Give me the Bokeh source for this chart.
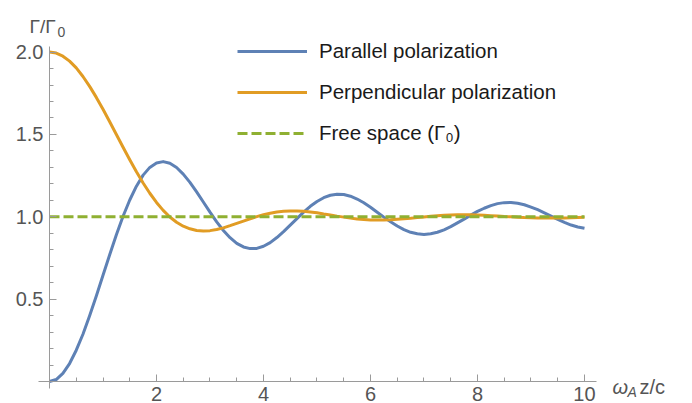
from bokeh.plotting import figure
from bokeh.models import (Range1d, FixedTicker, PrintfTickFormatter, Legend,
                          LegendItem, Label)
from bokeh.embed import file_html
from bokeh.resources import INLINE

# ---- data ----
x_vals = [0.0, 0.125, 0.25, 0.375, 0.5, 0.625, 0.75, 0.875, 1.0, 1.125, 1.25,
          1.375, 1.5, 1.625, 1.75, 1.875, 2.0, 2.125, 2.25, 2.375, 2.5, 2.625,
          2.75, 2.875, 3.0, 3.125, 3.25, 3.375, 3.5, 3.625, 3.75, 3.875, 4.0,
          4.125, 4.25, 4.375, 4.5, 4.625, 4.75, 4.875, 5.0, 5.125, 5.25, 5.375,
          5.5, 5.625, 5.75, 5.875, 6.0, 6.125, 6.25, 6.375, 6.5, 6.625, 6.75,
          6.875, 7.0, 7.125, 7.25, 7.375, 7.5, 7.625, 7.75, 7.875, 8.0, 8.125,
          8.25, 8.375, 8.5, 8.625, 8.75, 8.875, 9.0, 9.125, 9.25, 9.375, 9.5,
          9.625, 9.75, 9.875, 10.0]
parallel = [0.000, 0.012, 0.049, 0.109, 0.190, 0.287, 0.399, 0.519, 0.645,
            0.770, 0.891, 1.003, 1.102, 1.186, 1.253, 1.300, 1.327, 1.335,
            1.325, 1.299, 1.259, 1.209, 1.151, 1.090, 1.028, 0.969, 0.917,
            0.873, 0.839, 0.817, 0.807, 0.808, 0.821, 0.843, 0.874, 0.910,
            0.949, 0.989, 1.028, 1.064, 1.093, 1.116, 1.131, 1.137, 1.135,
            1.125, 1.108, 1.085, 1.058, 1.028, 0.998, 0.970, 0.944, 0.922,
            0.906, 0.897, 0.893, 0.897, 0.906, 0.921, 0.940, 0.963, 0.986,
            1.010, 1.033, 1.052, 1.068, 1.080, 1.086, 1.087, 1.082, 1.073,
            1.059, 1.043, 1.024, 1.004, 0.984, 0.966, 0.950, 0.938, 0.930]
perpendicular = [2.000, 1.994, 1.975, 1.945, 1.904, 1.852, 1.792, 1.725,
                 1.653, 1.577, 1.500, 1.422, 1.346, 1.273, 1.205, 1.143,
                 1.087, 1.039, 0.999, 0.967, 0.943, 0.927, 0.917, 0.914,
                 0.916, 0.923, 0.933, 0.946, 0.960, 0.974, 0.988, 1.001,
                 1.013, 1.022, 1.029, 1.033, 1.035, 1.035, 1.033, 1.029,
                 1.024, 1.017, 1.011, 1.004, 0.998, 0.992, 0.987, 0.984,
                 0.981, 0.981, 0.981, 0.982, 0.985, 0.988, 0.991, 0.995,
                 0.999, 1.003, 1.006, 1.009, 1.011, 1.012, 1.012, 1.012,
                 1.011, 1.009, 1.007, 1.005, 1.002, 1.000, 0.997, 0.995,
                 0.994, 0.992, 0.992, 0.992, 0.992, 0.993, 0.994, 0.996,
                 0.997]
free_x = [0.0, 10.0]
free_y = [1.0, 1.0]

x_major = [2, 4, 6, 8, 10]
x_minor = [0.5 * i for i in range(1, 21)]
y_major = [0.5, 1.0, 1.5, 2.0]
y_minor = [0.1 * i for i in range(1, 21)]

series_labels = ["Parallel polarization", "Perpendicular polarization",
                 "Free space (\u0393\u2080)"]

BLUE = "#5E81B5"
ORANGE = "#E19C24"
GREEN = "#8FB032"
AXIS = "#9a9a9a"
TXT = "#555555"
FONT = "Liberation Sans"

p = figure(width=692, height=403, output_backend="svg", toolbar_location=None,
           x_range=Range1d(-0.916, 12.019), y_range=Range1d(-0.1336, 2.3133),
           min_border=0, outline_line_color=None)
p.grid.visible = False

r_par = p.line(x_vals, parallel, line_color=BLUE, line_width=3,
               line_join="round")
r_perp = p.line(x_vals, perpendicular, line_color=ORANGE, line_width=3,
                line_join="round")
r_free = p.line(free_x, free_y, line_color=GREEN, line_width=3,
                line_dash="10 4")

for ax in (p.xaxis[0], p.yaxis[0]):
    ax.fixed_location = 0
    ax.axis_line_color = AXIS
    ax.major_tick_line_color = AXIS
    ax.minor_tick_line_color = AXIS
    ax.major_tick_in = 7
    ax.major_tick_out = 0
    ax.minor_tick_in = 4
    ax.minor_tick_out = 0
    ax.major_label_text_color = TXT
    ax.major_label_text_font = FONT
    ax.major_label_text_font_size = "20px"

p.xaxis[0].ticker = FixedTicker(ticks=x_major, minor_ticks=x_minor)
p.xaxis[0].bounds = (-0.2, 10.22)
p.xaxis[0].major_label_standoff = 6
p.yaxis[0].ticker = FixedTicker(ticks=y_major, minor_ticks=y_minor)
p.yaxis[0].bounds = (-0.04, 2.036)
p.yaxis[0].formatter = PrintfTickFormatter(format="%.1f")
p.yaxis[0].major_label_standoff = 6

legend = Legend(items=[LegendItem(label=series_labels[0], renderers=[r_par]),
                       LegendItem(label=series_labels[1], renderers=[r_perp]),
                       LegendItem(label=series_labels[2], renderers=[r_free])],
                location=(237, 258), padding=0, margin=0, spacing=17,
                glyph_width=70, glyph_height=22, label_height=22,
                label_standoff=12, border_line_color=None,
                background_fill_alpha=0, label_text_font=FONT,
                label_text_font_size="20.5px", label_text_color="#1a1a1a")
p.add_layout(legend)

# axis labels (Mathematica places them at the axis ends)
lab_kw = dict(text_font=FONT, text_color=TXT, text_baseline="alphabetic")
p.add_layout(Label(x=-0.374, y=2.155, text="\u0393/\u0393",
                   text_font_size="19px", **lab_kw))
p.add_layout(Label(x=0.150, y=2.125, text="0", text_font_size="14px", **lab_kw))
p.add_layout(Label(x=10.523, y=-0.036, text="\u03c9", text_font_style="italic",
                   text_font_size="20px", **lab_kw))
p.add_layout(Label(x=10.804, y=-0.061, text="A", text_font_style="italic",
                   text_font_size="14px", **lab_kw))
p.add_layout(Label(x=11.028, y=-0.036, text="z/c", text_font_size="20px",
                   **lab_kw))

open("out.html", "w").write(file_html(p, INLINE))
